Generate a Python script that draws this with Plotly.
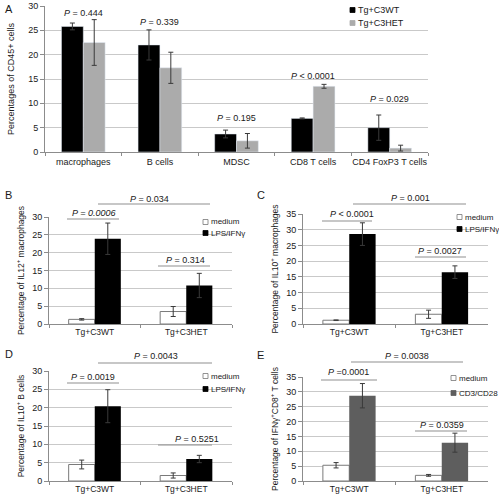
import plotly.graph_objects as go

W, H = 499, 496
FONT = "Liberation Sans, Arial, sans-serif"
TXT = "#1a1a1a"

# ---------------- Panel A data ----------------
a_categories = ["macrophages", "B cells", "MDSC", "CD8 T cells", "CD4 FoxP3 T cells"]
a_wt = [25.8, 22.0, 3.7, 6.9, 5.0]
a_wt_err = [0.7, 3.1, 0.8, 0.1, 2.6]
a_het = [22.5, 17.3, 2.3, 13.5, 0.8]
a_het_err = [4.7, 3.2, 1.5, 0.4, 0.6]
a_pvalues = ["<i>P</i> = 0.444", "<i>P</i> = 0.339", "<i>P</i> = 0.195",
             "<i>P</i> < 0.0001", "<i>P</i> = 0.029"]
a_plabel_y = [28.6, 26.7, 7.0, 15.6, 10.9]

# ---------------- Panels B-E data ----------------
groups = ["Tg+C3WT", "Tg+C3HET"]

b_medium = [1.3, 3.5]
b_medium_err = [0.2, 1.4]
b_lps = [23.9, 10.8]
b_lps_err = [4.4, 3.4]

c_medium = [1.2, 3.1]
c_medium_err = [0.1, 1.3]
c_lps = [28.6, 16.5]
c_lps_err = [3.6, 2.0]

d_medium = [4.5, 1.5]
d_medium_err = [1.2, 0.7]
d_lps = [20.4, 6.0]
d_lps_err = [4.5, 1.0]

e_medium = [5.3, 1.9]
e_medium_err = [0.9, 0.3]
e_cd3 = [28.7, 12.9]
e_cd3_err = [4.1, 3.2]

BLACK = "#000000"
LGRAY = "#ababab"
DGRAY = "#5e5e5e"
ERR = "#3a3a3a"


def err(arr):
    return dict(type="data", array=arr, visible=True, color=ERR, thickness=1, width=2.5)


fig = go.Figure()

# Panel A
fig.add_bar(x=a_categories, y=a_wt, error_y=err(a_wt_err), marker_color=BLACK,
            name="Tg+C3WT", xaxis="x", yaxis="y", showlegend=False)
fig.add_bar(x=a_categories, y=a_het, error_y=err(a_het_err), marker_color=LGRAY,
            name="Tg+C3HET", xaxis="x", yaxis="y", showlegend=False)

medium_marker = dict(color="white", line=dict(color="#7a7a7a", width=1))
panels = [
    ("2", b_medium, b_medium_err, b_lps, b_lps_err, "LPS/IFNγ", BLACK),
    ("3", c_medium, c_medium_err, c_lps, c_lps_err, "LPS/IFNγ", BLACK),
    ("4", d_medium, d_medium_err, d_lps, d_lps_err, "LPS/IFNγ", BLACK),
    ("5", e_medium, e_medium_err, e_cd3, e_cd3_err, "CD3/CD28", DGRAY),
]
for k, med, med_e, stim, stim_e, sname, scol in panels:
    fig.add_bar(x=groups, y=med, error_y=err(med_e), marker=medium_marker,
                name="medium", xaxis="x" + k, yaxis="y" + k, showlegend=False)
    fig.add_bar(x=groups, y=stim, error_y=err(stim_e), marker_color=scol,
                marker_line_width=0, name=sname, xaxis="x" + k, yaxis="y" + k,
                showlegend=False)


def px_x(p):
    return p / W


def px_y(p):
    return 1 - p / H


def xaxis(l, r, anchor, tsize=9, standoff=0):
    return dict(domain=[px_x(l), px_x(r)], anchor=anchor, showline=True,
                linecolor="#8c8c8c", linewidth=1, ticks="outside",
                tickson="boundaries", ticklen=3, tickcolor="#8c8c8c",
                showgrid=False, automargin=False, tickangle=0,
                ticklabelstandoff=standoff,
                tickfont=dict(family=FONT, size=tsize, color=TXT))


def yaxis(top, bottom, anchor, ymax, title, tsize=8.5, standoff=6):
    return dict(domain=[px_y(bottom), px_y(top)], anchor=anchor,
                range=[0, ymax], dtick=5, showgrid=True, gridcolor="#c9c9c9",
                gridwidth=1, zeroline=False, showline=True, linecolor="#8c8c8c",
                ticks="outside", ticklen=4, tickcolor="#8c8c8c", automargin=False,
                tickfont=dict(family=FONT, size=9, color=TXT),
                title=dict(text=title, standoff=standoff,
                           font=dict(family=FONT, size=tsize, color=TXT)))


fig.update_layout(
    width=W, height=H, margin=dict(l=0, r=0, t=0, b=0),
    paper_bgcolor="white", plot_bgcolor="white",
    barmode="group", bargap=0.43, bargroupgap=0,
    font=dict(family=FONT, size=9, color=TXT),
    xaxis=xaxis(45, 428, "y", tsize=9, standoff=1),
    yaxis=yaxis(6, 152, "x", 30, "Percentages of CD45+ cells", tsize=9, standoff=12),
    xaxis2=xaxis(49, 232, "y2", tsize=8.5),
    yaxis2=yaxis(217, 324, "x2", 30, "Percentage of IL12<sup>+</sup> macrophages"),
    xaxis3=xaxis(303, 488, "y3", tsize=8.5),
    yaxis3=yaxis(214, 324, "x3", 35, "Percentage of IL10<sup>+</sup> macrophages"),
    xaxis4=xaxis(49, 232, "y4", tsize=8.5),
    yaxis4=yaxis(371, 481, "x4", 30, "Percentage of IL10<sup>+</sup> B cells"),
    xaxis5=xaxis(303, 488, "y5", tsize=8.5),
    yaxis5=yaxis(377, 481, "x5", 35, "Percentage of IFNγ<sup>+</sup>CD8<sup>+</sup> T cells"),
)

ann = []
shapes = []


def text(x, y, s, size=9, xanchor="center", color=TXT):
    ann.append(dict(x=px_x(x), y=px_y(y), xref="paper", yref="paper", text=s,
                    showarrow=False, xanchor=xanchor, yanchor="middle",
                    font=dict(family=FONT, size=size, color=color)))


def bracket(x0, x1, y, s, tx, ty):
    shapes.append(dict(type="line", xref="paper", yref="paper",
                       x0=px_x(x0), x1=px_x(x1), y0=px_y(y), y1=px_y(y),
                       line=dict(color="#8f8f8f", width=1.2)))
    text(tx, ty, s)


def legend_item(x, y, label, fill, outline, size=8):
    shapes.append(dict(type="rect", xref="paper", yref="paper",
                       x0=px_x(x), x1=px_x(x + 5), y0=px_y(y + 2.5), y1=px_y(y - 2.5),
                       fillcolor=fill, line=dict(color=outline, width=0.8)))
    text(x + 6, y, label, size=size, xanchor="left")


# Panel A p-values over categories
for cat, p, yv in zip(a_categories, a_pvalues, a_plabel_y):
    ann.append(dict(x=cat, y=yv, xref="x", yref="y", text=p, showarrow=False,
                    yanchor="middle", font=dict(family=FONT, size=9, color=TXT)))

# Panel A legend
legend_item(350, 10, "Tg+C3WT", BLACK, BLACK, size=9)
legend_item(350, 23, "Tg+C3HET", LGRAY, LGRAY, size=9)

# Panel letters
text(3, 9, "A", size=11, xanchor="left")
text(3, 195, "B", size=11, xanchor="left")
text(255, 195, "C", size=11, xanchor="left")
text(3, 354, "D", size=11, xanchor="left")
text(255, 355, "E", size=11, xanchor="left")

# Panel B
bracket(67, 119, 219, "<i>P = 0.0006</i>", 93, 213)
bracket(98, 210, 204, "<i>P</i> = 0.034", 149, 199)
bracket(158, 210, 266, "<i>P</i> = 0.314", 185, 260)
legend_item(203, 222, "medium", "white", "#777")
legend_item(203, 233, "LPS/IFNγ", BLACK, BLACK)

# Panel C
bracket(322, 372, 221, "<i>P</i> < 0.0001", 352, 214)
bracket(353, 466, 204, "<i>P</i> = 0.001", 410, 198)
bracket(415, 466, 257, "<i>P</i> = 0.0027", 440, 251)
legend_item(457, 217, "medium", "white", "#777")
legend_item(457, 229, "LPS/IFNγ", BLACK, BLACK)

# Panel D
bracket(67, 119, 383, "<i>P</i> = 0.0019", 93, 377)
bracket(98, 212, 363, "<i>P</i> = 0.0043", 156, 356)
bracket(158, 212, 445, "<i>P</i> = 0.5251", 197, 439)
legend_item(203, 376, "medium", "white", "#777")
legend_item(203, 389, "LPS/IFNγ", BLACK, BLACK)

# Panel E
bracket(321, 377, 380, "<i>P</i> =0.0001", 348, 372)
bracket(351, 463, 362, "<i>P</i> = 0.0038", 407, 356)
bracket(415, 467, 431, "<i>P</i> = 0.0359", 442, 425)
legend_item(451, 378, "medium", "white", "#777")
legend_item(451, 393, "CD3/CD28", DGRAY, DGRAY)

fig.update_layout(annotations=ann, shapes=shapes)
fig.write_html("out.html", config={"displayModeBar": False},
               post_script="document.body.style.margin='0';document.body.style.padding='0';")
